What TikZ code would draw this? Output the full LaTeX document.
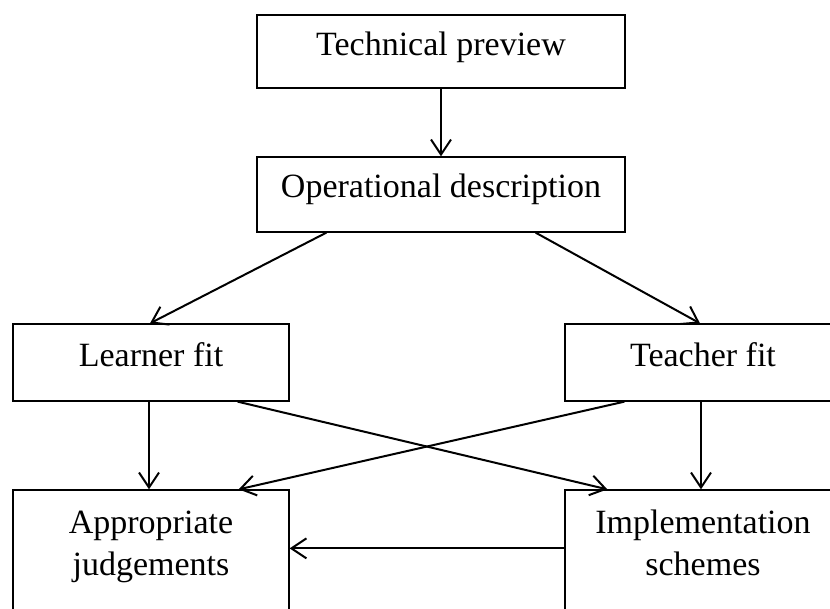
\documentclass[tikz,border=0pt]{standalone}
\usepackage{fontspec}
\setmainfont{Liberation Serif}
\usetikzlibrary{arrows.meta,calc}
\tikzset{
  box/.style={draw=black, line width=1.3pt, fill=none, inner sep=0pt},
  label text/.style={font=\fontsize{34}{42}\selectfont, align=center, inner sep=0pt},
  flow/.style={line width=2pt, -{Straight Barb[length=15pt,width=20pt,line width=2pt]}}
}
\begin{document}
\begin{tikzpicture}[x=1pt,y=-1pt]
  \clip (0,0) rectangle (830,608);
  \fill[white] (0,0) rectangle (830,608);

  % boxes
  \node[box, minimum width=368pt, minimum height=73pt] (tech) at (441,51.5) {};
  \node[box, minimum width=368pt, minimum height=75pt] (oper) at (441,194.5) {};
  \node[box, minimum width=276pt, minimum height=77pt] (learn) at (151,362.5) {};
  \node[box, minimum width=276pt, minimum height=77pt] (teach) at (703,362.5) {};
  \node[box, minimum width=276pt, minimum height=150pt] (appr) at (151,565) {};
  \node[box, minimum width=276pt, minimum height=150pt] (impl) at (703,565) {};

  % texts
  \node[label text, anchor=base] (ttech) at (441,55) {Technical preview};
  \node[label text, anchor=base] (toper) at (441,197) {Operational description};
  \node[label text, anchor=base] (tlearn) at (151,366) {Learner fit};
  \node[label text, anchor=base] (tteach) at (703,366) {Teacher fit};
  \node[label text, anchor=base] (tappr1) at (151,533) {Appropriate};
  \node[label text, anchor=base] (tappr2) at (151,575) {judgements};
  \node[label text, anchor=base] (timpl1) at (703,533) {Implementation};
  \node[label text, anchor=base] (timpl2) at (703,575) {schemes};

  % connectors
  \draw[flow] (tech.south) -- (oper.north);
  \draw[flow] ([xshift=70pt]oper.south west) -- ([xshift=-1pt]learn.north);
  \draw[flow] ([xshift=-90pt]oper.south east) -- ([xshift=-3pt]teach.north);
  \draw[flow] ([xshift=-2pt]learn.south) -- ([xshift=-2pt]appr.north);
  \draw[flow] ([xshift=-2pt]teach.south) -- ([xshift=-2pt]impl.north);
  \draw[flow] ([xshift=-52pt]learn.south east) -- ([xshift=43pt]impl.north west);
  \draw[flow] ([xshift=60pt]teach.south west) -- ([xshift=-51pt]appr.north east);
  \draw[flow] ([yshift=-59pt]impl.north west) -- ([yshift=-59pt]appr.north east);
\end{tikzpicture}
\end{document}
